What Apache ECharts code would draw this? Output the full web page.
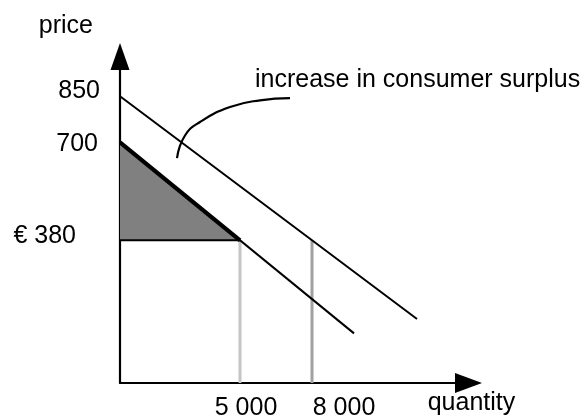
<!DOCTYPE html>
<html><head><meta charset="utf-8">
<script src="https://cdn.jsdelivr.net/npm/echarts@6/dist/echarts.min.js"></script>
<style>html,body{margin:0;padding:0;background:#fff}#c{width:587px;height:416px}</style>
</head><body><div id="c"></div>
<script>
const FONT = '"Liberation Sans", Arial, Helvetica, sans-serif';
// tick labels
const priceTicks = [380, 700, 850];
const priceTickLabels = ['€ 380', '700', '850'];
const quantityTicks = [5000, 8000];
const quantityTickLabels = ['5 000', '8 000'];
// demand curves [quantity, price]
const demandBefore = [[0, 700], [9750, 76]];
const demandAfter = [[0, 850], [12375, 123]];
const equilibriumPrice = 380;
const quantityBefore = 5000;
const quantityAfter = 8000;
const surplusTriangle = [[0, 700], [5000, 380], [0, 380]];
const thickSegment = [[0, 700], [5000, 380]];
const annotationCurve = [[2375, 648], [2708, 722], [3333, 766], [4583, 815], [5833, 837], [7083, 844]];
const axisNameX = 'quantity';
const axisNameY = 'price';
const annotationText = 'increase in consumer surplus';
const yMin = -86, yMax = 980, xMin = 0, xMax = 14520;

const FS = 25;
const chart = echarts.init(document.getElementById('c'), null, {renderer: 'canvas'});
const labelRichY = {
  l380: {fontSize: FS, fontFamily: FONT, color: '#000', padding: [0, 24, 9, 0]},
  l700: {fontSize: FS, fontFamily: FONT, color: '#000', padding: [4, 2, 0, 0]},
  l850: {fontSize: FS, fontFamily: FONT, color: '#000', padding: [0, 0, 10, 0]}
};
const labelRichX = {
  q5000: {fontSize: FS, fontFamily: FONT, color: '#000', padding: [0, 0, 0, 12]},
  q8000: {fontSize: FS, fontFamily: FONT, color: '#000', padding: [0, 0, 0, 64]}
};
const lineSeries = (data, width, color, z) => ({
  type: 'line', data: data, showSymbol: false, symbol: 'none', silent: true, z: z || 2,
  lineStyle: {width: width, color: color, cap: 'butt'}, animation: false
});
chart.setOption({
  animation: false,
  textStyle: {fontFamily: FONT},
  grid: {left: 120, right: 118.5, top: 56.5, bottom: 33, containLabel: false, outerBoundsMode: 'none'},
  xAxis: {
    type: 'value', min: xMin, max: xMax,
    name: axisNameX, nameLocation: 'end', nameGap: 3,
    nameTextStyle: {fontSize: FS, fontFamily: FONT, color: '#000', align: 'center', verticalAlign: 'top', padding: [8, 0, 0, 0]},
    axisLine: {onZero: false, lineStyle: {color: '#000', width: 2.2}, symbol: ['none', 'triangle'], symbolSize: [20, 27]},
    axisTick: {show: false},
    splitLine: {show: false},
    axisLabel: {
      customValues: quantityTicks, margin: 13,
      formatter: v => '{q' + v + '|' + quantityTickLabels[quantityTicks.indexOf(v)] + '}',
      rich: labelRichX
    }
  },
  yAxis: {
    type: 'value', min: yMin, max: yMax,
    name: axisNameY, nameLocation: 'end', nameGap: 30,
    nameTextStyle: {fontSize: FS, fontFamily: FONT, color: '#000', align: 'right', verticalAlign: 'middle', padding: [0, 27, 0, 0]},
    axisLine: {onZero: false, lineStyle: {color: '#000', width: 2.2}, symbol: ['none', 'triangle'], symbolSize: [19, 27]},
    axisTick: {show: false},
    splitLine: {show: false},
    axisLabel: {
      customValues: priceTicks, margin: 20,
      formatter: v => '{l' + v + '|' + priceTickLabels[priceTicks.indexOf(v)] + '}',
      rich: labelRichY
    }
  },
  series: [
    {
      type: 'custom', silent: true, z: 1, animation: false,
      data: [surplusTriangle.flat()],
      renderItem: function (params, api) {
        const pts = [];
        for (let i = 0; i < surplusTriangle.length; i++) {
          pts.push(api.coord([api.value(i * 2), api.value(i * 2 + 1)]));
        }
        return {type: 'polygon', shape: {points: pts}, style: {fill: '#808080', stroke: 'none'}};
      },
      encode: {x: [0, 2, 4], y: [1, 3, 5]}
    },
    lineSeries([[quantityBefore, equilibriumPrice], [quantityBefore, yMin]], 3, '#c4c4c4', 2),
    lineSeries([[quantityAfter, equilibriumPrice], [quantityAfter, yMin]], 3, '#a0a0a0', 2),
    lineSeries([[0, equilibriumPrice], [quantityBefore, equilibriumPrice]], 2.2, '#000', 3),
    lineSeries(demandBefore, 2, '#000', 3),
    lineSeries(demandAfter, 2, '#000', 3),
    lineSeries(thickSegment, 4.2, '#000', 4),
    Object.assign(lineSeries(annotationCurve, 2.2, '#000', 3), {smooth: true})
  ],
  graphic: [{
    type: 'text', left: 255, top: 68, silent: true,
    style: {text: annotationText, font: FS + 'px ' + FONT, fill: '#000'}
  }]
});
</script></body></html>
